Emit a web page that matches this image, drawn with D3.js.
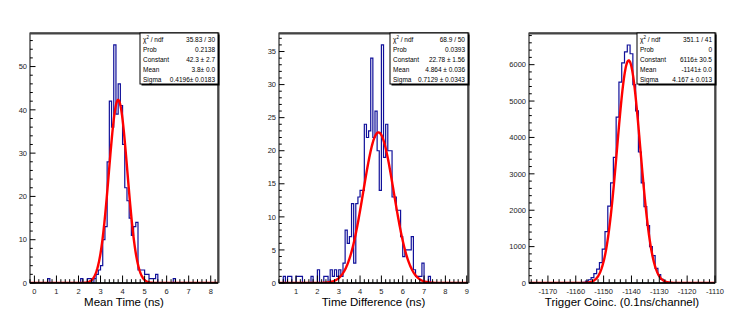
<!DOCTYPE html>
<html>
<head>
<meta charset="utf-8">
<script src="https://cdn.jsdelivr.net/npm/d3@7"></script>
<style>
  body { margin: 0; background: #fff; }
  svg { display: block; font-family: "Liberation Sans", Arial, Helvetica, sans-serif; }
</style>
</head>
<body>
<svg id="chart" width="747" height="317"></svg>
<script>
// ---- data ----
// mean time (ns): lower bin edge, entries (bin width 0.1)
var meanTimeLow = [0.6, 2.1, 2.4, 2.5, 2.7, 2.8, 2.9, 3.0, 3.1, 3.2, 3.3, 3.4, 3.5, 3.6, 3.7, 3.8, 3.9,
  4.0, 4.1, 4.2, 4.3, 4.4, 4.5, 4.6, 4.7, 4.8, 4.9, 5.0, 5.1, 5.2, 5.3, 5.4, 5.5, 6.3];
var meanTimeCount = [1, 1, 1, 1, 1, 2, 3, 4, 10, 13, 28, 42, 36, 55, 39, 46, 41,
  32, 22, 19, 15, 11, 13, 14, 3, 3, 3, 2, 2, 1, 1, 1, 2, 1];

// time difference (ns): lower bin edge, entries (bin width 0.1)
var timeDiffLow = [0.4, 0.6, 0.7, 1.0, 1.1, 1.2, 1.7, 2.0, 2.3, 2.4, 2.6, 2.7, 2.8, 2.9, 3.0, 3.1,
  3.2, 3.3, 3.4, 3.5, 3.6, 3.7, 3.8, 3.9, 4.0, 4.1, 4.2, 4.3, 4.4, 4.5, 4.6, 4.7, 4.8, 4.9,
  5.0, 5.1, 5.2, 5.3, 5.4, 5.5, 5.6, 5.7, 5.8, 5.9, 6.0, 6.1, 6.2, 6.3, 6.4, 6.5, 6.6, 6.7,
  6.8, 6.9, 7.2];
var timeDiffCount = [1, 1, 1, 1, 1, 1, 1, 2, 1, 1, 2, 1, 2, 1, 2, 1,
  3, 8, 6, 7, 12, 3, 12, 13, 14, 14, 24, 22, 23, 34, 22, 26, 20, 14,
  36, 19, 24, 20, 20, 13, 13, 11, 11, 7, 4, 5, 5, 5, 7, 2, 1, 1,
  1, 3, 1];

// trigger coincidence (0.1 ns/channel): channel, entries
var triggerChannel = [-1157, -1156, -1155, -1154, -1153, -1152, -1151, -1150, -1149, -1148, -1147,
  -1146, -1145, -1144, -1143, -1142, -1141, -1140, -1139, -1138, -1137, -1136, -1135, -1134,
  -1133, -1132, -1131, -1130, -1129, -1128, -1127];
var triggerCount = [20, 50, 90, 150, 260, 380, 560, 930, 1410, 2110, 2750,
  3450, 4560, 5520, 6050, 6350, 6540, 6300, 5450, 4730, 3600, 2750, 2100, 1580,
  1000, 750, 400, 230, 100, 40, 15];

// fit results (constant, mean, sigma)
var meanTimeFit = [42.3, 3.8, 0.4196];
var timeDiffFit = [22.78, 4.864, 0.7129];
var triggerFit = [6116, -1141, 4.167];

var statLabels = ["ndf", "Prob", "Constant", "Mean", "Sigma"];
var meanTimeStats = ["35.83 / 30", "0.2138", "42.3 \u00b1 2.7", "3.8\u00b1 0.0", "0.4196\u00b1 0.0183"];
var timeDiffStats = ["68.9 / 50", "0.0393", "22.78 \u00b1 1.56", "4.864 \u00b1 0.036", "0.7129 \u00b1 0.0343"];
var triggerStats = ["351.1 / 41", "0", "6116\u00b1 30.5", "-1141\u00b1 0.0", "4.167 \u00b1 0.013"];

var axisTitles = ["Mean Time (ns)", "Time Difference (ns)", "Trigger Coinc. (0.1ns/channel)"];

// ---- layout ----
var svg = d3.select("#chart");
var frameTop = 33, frameBottom = 283;

var panels = [
  { left: 30, right: 218, xDom: [-0.2, 8.33], yMax: 57.75, binW: 0.1, xStart: -0.2,
    low: meanTimeLow, count: meanTimeCount, fit: meanTimeFit, stats: meanTimeStats,
    xMajor: 1, xMinor: 0.2, yMajor: 10, yMinor: 2, title: axisTitles[0] },
  { left: 279, right: 468, xDom: [0.2, 9.06], yMax: 37.8, binW: 0.1, xStart: 0.2,
    low: timeDiffLow, count: timeDiffCount, fit: timeDiffFit, stats: timeDiffStats,
    xMajor: 1, xMinor: 0.2, yMajor: 5, yMinor: 1, title: axisTitles[1] },
  { left: 529, right: 715, xDom: [-1176.8, -1110], yMax: 6870, binW: 1, xStart: -1176.5,
    low: triggerChannel.map(function(c) { return c - 0.5; }), count: triggerCount,
    fit: triggerFit, stats: triggerStats,
    xMajor: 10, xMinor: 2, yMajor: 1000, yMinor: 200, title: axisTitles[2] }
];

function gauss(p, x) {
  var d = (x - p[1]) / p[2];
  return p[0] * Math.exp(-0.5 * d * d);
}

function ticksBetween(lo, hi, step) {
  var out = [];
  var s = Math.ceil(lo / step - 1e-9);
  for (var k = s; k * step <= hi + 1e-9; k++) out.push(+(k * step).toFixed(6));
  return out;
}

panels.forEach(function(p, i) {
  var g = svg.append("g");
  var x = d3.scaleLinear().domain(p.xDom).range([p.left, p.right]);
  var y = d3.scaleLinear().domain([0, p.yMax]).range([frameBottom, frameTop]);

  var clipId = "clip" + i;
  g.append("clipPath").attr("id", clipId)
    .append("rect")
    .attr("x", p.left).attr("y", frameTop)
    .attr("width", p.right - p.left).attr("height", frameBottom - frameTop);

  // full bin contents
  var nBins = Math.ceil((p.xDom[1] - p.xStart) / p.binW);
  var bins = d3.range(nBins).map(function() { return 0; });
  p.low.forEach(function(lo, k) {
    var idx = Math.round((lo - p.xStart) / p.binW);
    if (idx >= 0 && idx < nBins) bins[idx] = p.count[k];
  });

  var pts = [[p.xStart, 0]];
  bins.forEach(function(c, k) {
    var lo = p.xStart + k * p.binW;
    pts.push([lo, c], [lo + p.binW, c]);
  });
  pts.push([p.xStart + nBins * p.binW, 0]);

  var line = d3.line()
    .x(function(d) { return x(d[0]); })
    .y(function(d) { return y(d[1]); });

  var plot = g.append("g").attr("clip-path", "url(#" + clipId + ")");
  plot.append("path")
    .attr("d", line(pts))
    .attr("fill", "none")
    .attr("stroke", "#10109a")
    .attr("stroke-width", 1.2);

  // fit curve
  var fitPts = d3.range(0, 401).map(function(k) {
    var xv = p.xDom[0] + (p.xDom[1] - p.xDom[0]) * k / 400;
    return [xv, gauss(p.fit, xv)];
  });
  plot.append("path")
    .attr("d", d3.line().curve(d3.curveLinear)
      .x(function(d) { return x(d[0]); })
      .y(function(d) { return y(d[1]); })(fitPts))
    .attr("fill", "none")
    .attr("stroke", "#ff0000")
    .attr("stroke-width", 2.4);

  // frame
  g.append("rect")
    .attr("x", p.left).attr("y", frameTop)
    .attr("width", p.right - p.left).attr("height", frameBottom - frameTop)
    .attr("fill", "none").attr("stroke", "#000").attr("stroke-width", 1);
  g.append("path")
    .attr("d", "M" + p.left + "," + (frameTop + 0.5) + "H" + (p.right + 0.5) + "V" + frameBottom)
    .attr("fill", "none").attr("stroke", "#444").attr("stroke-width", 2);
  g.append("line")
    .attr("x1", p.left).attr("x2", p.right)
    .attr("y1", frameBottom).attr("y2", frameBottom)
    .attr("stroke", "#000").attr("stroke-width", 1.3);

  // x ticks (inside, pointing up)
  ticksBetween(p.xDom[0], p.xDom[1], p.xMinor).forEach(function(t) {
    var major = Math.abs(t / p.xMajor - Math.round(t / p.xMajor)) < 1e-6;
    g.append("line")
      .attr("x1", x(t)).attr("x2", x(t))
      .attr("y1", frameBottom).attr("y2", frameBottom - (major ? 7.5 : 3.8))
      .attr("stroke", "#000").attr("stroke-width", 1);
  });
  ticksBetween(p.xDom[0], p.xDom[1], p.xMajor).forEach(function(t) {
    g.append("text")
      .attr("x", x(t)).attr("y", frameBottom + 11)
      .attr("text-anchor", "middle")
      .attr("font-size", 7.5).attr("fill", "#222")
      .text(t);
  });

  // y ticks (inside, pointing right)
  ticksBetween(0, p.yMax, p.yMinor).forEach(function(t) {
    var major = Math.abs(t / p.yMajor - Math.round(t / p.yMajor)) < 1e-6;
    g.append("line")
      .attr("x1", p.left).attr("x2", p.left + (major ? 5.5 : 2.8))
      .attr("y1", y(t)).attr("y2", y(t))
      .attr("stroke", "#000").attr("stroke-width", 1);
  });
  ticksBetween(0, p.yMax, p.yMajor).forEach(function(t) {
    g.append("text")
      .attr("x", p.left - 3).attr("y", y(t) + 2.7)
      .attr("text-anchor", "end")
      .attr("font-size", 7.5).attr("fill", "#222")
      .text(t);
  });

  // axis title
  g.append("text")
    .attr("x", (p.left + p.right) / 2).attr("y", frameBottom + 23)
    .attr("text-anchor", "middle")
    .attr("font-size", 11.5).attr("fill", "#000")
    .text(p.title);

  // stats box
  var bw = 78, bh = 51, bx = p.right - bw, by = frameTop;
  g.append("rect")
    .attr("x", bx + 1.5).attr("y", by + 1.5).attr("width", bw).attr("height", bh)
    .attr("fill", "#000");
  g.append("rect")
    .attr("x", bx).attr("y", by).attr("width", bw).attr("height", bh)
    .attr("fill", "#fff").attr("stroke", "#000").attr("stroke-width", 1);
  p.stats.forEach(function(v, k) {
    var ty = by + 8.5 + k * 10;
    var lab = g.append("text")
      .attr("x", bx + 3).attr("y", ty)
      .attr("font-size", 6.5).attr("fill", "#000");
    if (k === 0) {
      lab.append("tspan").text("\u03c7");
      lab.append("tspan").attr("dy", -2.5).attr("font-size", 4.5).text("2");
      lab.append("tspan").attr("dy", 2.5).text(" / " + statLabels[0]);
    } else {
      lab.text(statLabels[k]);
    }
    g.append("text")
      .attr("x", bx + bw - 3).attr("y", ty)
      .attr("text-anchor", "end")
      .attr("font-size", 6.5).attr("fill", "#000")
      .text(v);
  });
});
</script>
</body>
</html>
